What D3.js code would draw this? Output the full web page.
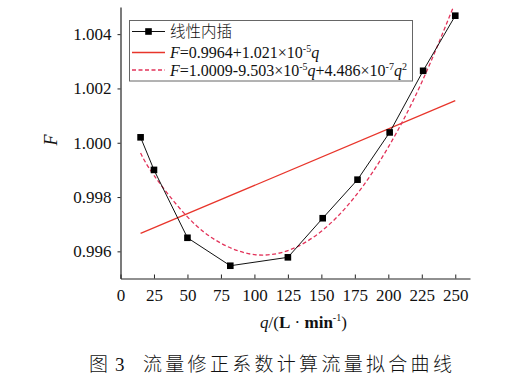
<!DOCTYPE html>
<html><head><meta charset="utf-8">
<script src="https://cdn.jsdelivr.net/npm/d3@7"></script>
<style>
body{margin:0;background:#fff;}
svg{display:block;}
text{font-family:"Liberation Serif","Times New Roman","Noto Sans CJK SC",serif;fill:#111;}
.cjk{font-family:"Noto Sans CJK SC",sans-serif;font-weight:300;}
</style></head>
<body>
<script>
// data
const qData = [15, 25, 50, 82, 125, 151, 177, 201, 226, 250];
const fData = [1.0002, 0.9990, 0.9965, 0.99547, 0.99578, 0.99722, 0.99864, 1.00038, 1.00265, 1.00468];
const linQ = [15, 250];
const linF = [0.99666, 1.00155];
const fitQ = [15, 25, 50, 75, 100, 125, 150, 175, 200, 225, 250];
const fitF = [0.99962, 0.99880, 0.99727, 0.99630, 0.99588, 0.99603, 0.99674, 0.99801, 0.99984, 1.00223, 1.00518];
const xTicks = [0, 25, 50, 75, 100, 125, 150, 175, 200, 225, 250];
const yTicks = [0.996, 0.998, 1.000, 1.002, 1.004];
const legendLabels = ["线性内插", "F=0.9964+1.021×10-5q", "F=1.0009-9.503×10-5q+4.486×10-7q2"];
const caption = ["图 3", "流量修正系数计算流量拟合曲线"];

const W = 523, H = 380;
const svg = d3.select("body").append("svg").attr("width", W).attr("height", H);
svg.append("rect").attr("width", W).attr("height", H).attr("fill", "#fff");

const x = d3.scaleLinear().domain([0, 261]).range([120.5, 470]);
const y = d3.scaleLinear().domain([0.995, 1.005]).range([278.5, 7]);

svg.append("clipPath").attr("id", "clip").append("rect")
  .attr("x", 120.5).attr("y", 7).attr("width", 350).attr("height", 271.5);

// axes
const xAxis = d3.axisBottom(x).tickValues(xTicks).tickFormat(d3.format("d"))
  .tickSizeInner(-4).tickSizeOuter(0).tickPadding(10);
const gx = svg.append("g").attr("transform", `translate(0,${y(0.995)})`).call(xAxis);
const yAxis = d3.axisLeft(y).tickValues(yTicks).tickFormat(d3.format(".3f"))
  .tickSizeInner(3).tickSizeOuter(0).tickPadding(6);
const gy = svg.append("g").attr("transform", `translate(${x(0)},0)`).call(yAxis);
[gx, gy].forEach(g => {
  g.select(".domain").attr("stroke", "#222").attr("stroke-width", 1.2);
  g.selectAll(".tick line").attr("stroke", "#222").attr("stroke-width", 1);
  g.selectAll(".tick text").attr("font-size", 17).attr("fill", "#111")
    .style("font-family", '"Liberation Serif","Times New Roman",serif');
});

const plot = svg.append("g").attr("clip-path", "url(#clip)");

// linear fit
plot.append("path")
  .datum(linQ.map((q, i) => [q, linF[i]]))
  .attr("fill", "none").attr("stroke", "#e8352b").attr("stroke-width", 1.3)
  .attr("d", d3.line().x(d => x(d[0])).y(d => y(d[1])));

// quadratic fit (dashed)
plot.append("path")
  .datum(fitQ.map((q, i) => [q, fitF[i]]))
  .attr("fill", "none").attr("stroke", "#e2335a").attr("stroke-width", 1.3)
  .attr("stroke-dasharray", "4,2.5")
  .attr("d", d3.line().curve(d3.curveNatural).x(d => x(d[0])).y(d => y(d[1])));

// interpolation line + markers
const pts = qData.map((q, i) => [q, fData[i]]);
plot.append("path").datum(pts)
  .attr("fill", "none").attr("stroke", "#111").attr("stroke-width", 1)
  .attr("d", d3.line().x(d => x(d[0])).y(d => y(d[1])));
const ms = 6.6;
svg.selectAll("rect.m").data(pts).enter().append("rect").attr("class", "m")
  .attr("x", d => x(d[0]) - ms / 2).attr("y", d => y(d[1]) - ms / 2)
  .attr("width", ms).attr("height", ms).attr("fill", "#000");

// legend
const lg = svg.append("g");
lg.append("rect").attr("x", 129.5).attr("y", 20.5).attr("width", 283).attr("height", 60.5)
  .attr("fill", "#fff").attr("stroke", "#666").attr("stroke-width", 1);
const rowY = [31.5, 52.5, 70];
const lx0 = 132, lx1 = 165;
lg.append("line").attr("x1", lx0).attr("x2", lx1).attr("y1", rowY[0]).attr("y2", rowY[0]).attr("stroke", "#111");
lg.append("rect").attr("x", (lx0 + lx1) / 2 - 3.3).attr("y", rowY[0] - 3.3).attr("width", 6.6).attr("height", 6.6).attr("fill", "#000");
lg.append("line").attr("x1", lx0).attr("x2", lx1).attr("y1", rowY[1]).attr("y2", rowY[1]).attr("stroke", "#e8352b").attr("stroke-width", 1.3);
lg.append("line").attr("x1", lx0).attr("x2", lx1).attr("y1", rowY[2]).attr("y2", rowY[2]).attr("stroke", "#e2335a").attr("stroke-width", 1.3).attr("stroke-dasharray", "4,2.5");

const tx = 170;
lg.append("text").attr("class", "cjk").attr("x", tx).attr("y", rowY[0] + 5.5).attr("font-size", 15.5).text(legendLabels[0]);

// helper to write formula with superscripts
function formula(g, xx, yy, parts) {
  const t = g.append("text").attr("x", xx).attr("y", yy).attr("font-size", 16);
  parts.forEach(p => {
    const s = t.append("tspan").text(p.t);
    if (p.i) s.attr("font-style", "italic");
    if (p.sup) s.attr("font-size", 10).attr("dy", -6);
    if (p.down) s.attr("dy", 6);
  });
  return t;
}
formula(lg, tx, rowY[1] + 5.5, [
  {t: "F", i: 1}, {t: "=0.9964+1.021×10"}, {t: "-5", sup: 1}, {t: "q", i: 1, down: 1}
]);
formula(lg, tx, rowY[2] + 5.5, [
  {t: "F", i: 1}, {t: "=1.0009-9.503×10"}, {t: "-5", sup: 1}, {t: "q", i: 1, down: 1},
  {t: "+4.486×10"}, {t: "-7", sup: 1}, {t: "q", i: 1, down: 1}, {t: "2", sup: 1}
]);

// axis titles
const xt = svg.append("text").attr("x", 303.5).attr("y", 327.5).attr("font-size", 17).attr("text-anchor", "middle");
xt.append("tspan").attr("font-style", "italic").text("q");
xt.append("tspan").text("/(");
xt.append("tspan").attr("font-weight", "bold").text("L");
xt.append("tspan").text(" · ");
xt.append("tspan").attr("font-weight", "bold").text("min");
xt.append("tspan").attr("font-size", 10).attr("dy", -7).text("-1");
xt.append("tspan").attr("dy", 7).text(")");

svg.append("text").attr("transform", "translate(57,140) rotate(-90)")
  .attr("text-anchor", "middle").attr("font-size", 18).attr("font-style", "italic").text("F");

// caption
svg.append("text").attr("class", "cjk").attr("x", 89).attr("y", 371).attr("font-size", 19).text(caption[0].split(" ")[0]);
svg.append("text").attr("x", 115).attr("y", 371).attr("font-size", 19).text(caption[0].split(" ")[1]);
svg.append("text").attr("class", "cjk").attr("x", 143).attr("y", 371).attr("font-size", 19)
  .attr("letter-spacing", 3.3).text(caption[1]);
</script>
</body></html>
